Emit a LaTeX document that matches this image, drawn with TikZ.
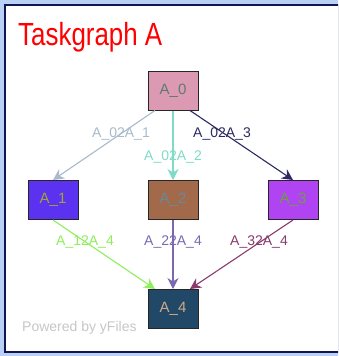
\documentclass[tikz,border=0pt]{standalone}
\usepackage{fontspec}
\setmainfont{Liberation Sans}
\usetikzlibrary{arrows.meta,calc}
\definecolor{bgblue}{HTML}{B9D1F4}
\definecolor{navy}{HTML}{141452}
\definecolor{e01}{HTML}{A9BACB}
\definecolor{e02}{HTML}{7EDCC6}
\definecolor{e03}{HTML}{2B2A62}
\definecolor{e14}{HTML}{8FEE5C}
\definecolor{e24}{HTML}{7A68B0}
\definecolor{e34}{HTML}{8A3A6C}
\definecolor{f0}{HTML}{DC9AB2}
\definecolor{f1}{HTML}{5A32F0}
\definecolor{f2}{HTML}{A26A4A}
\definecolor{f3}{HTML}{B043F2}
\definecolor{f4}{HTML}{224868}
\definecolor{t0}{HTML}{607A70}
\definecolor{t1}{HTML}{A2A23A}
\definecolor{t2}{HTML}{6A8898}
\definecolor{t3}{HTML}{6CA040}
\definecolor{t4}{HTML}{CCAA88}
\tikzset{
  task/.style={draw=black!85, line width=1pt, minimum width=50pt, minimum height=39pt,
    inner sep=0pt, font=\fontsize{15pt}{17pt}\selectfont},
  edge/.style={line width=1.1pt, -{Stealth[length=11pt,width=11pt,inset=3.5pt]}},
  elabel/.style={font=\fontsize{14pt}{16pt}\selectfont, inner sep=0pt}
}
\begin{document}
\begin{tikzpicture}[x=1pt,y=-1pt]
\useasboundingbox (0,0) rectangle (338,356);
\clip (0,0) rectangle (338,356);
\fill[bgblue] (0,0) rectangle (338,356);
\fill[navy] (4,4) rectangle (342,353);
\fill[white] (6,6) rectangle (342,351);
\node[anchor=base west, inner sep=0pt, text=red, font=\fontsize{32pt}{36pt}\selectfont] (title) at (18,45.7) {\scalebox{0.81}[1]{Taskgraph A}};
\node[anchor=base west, inner sep=0pt, text=black!22, font=\fontsize{14pt}{16pt}\selectfont] (powered) at (22,331.5) {Powered by yFiles};

\node[task, fill=f0, text=t0] (a0) at (173,90.5) {A\_0};
\node[task, fill=f1, text=t1] (a1) at (53,200) {A\_1};
\node[task, fill=f2, text=t2] (a2) at (173,200) {A\_2};
\node[task, fill=f3, text=t3] (a3) at (293,200) {A\_3};
\node[task, fill=f4, text=t4] (a4) at (173,309) {A\_4};

\draw[edge, e01] ($(a0.south)+(-18,0)$) -- (a1.north);
\draw[edge, e02] (a0.south) -- (a2.north);
\draw[edge, e03] ($(a0.south)+(17,0)$) -- (a3.north);
\draw[edge, e14] (a1.south) -- ($(a4.north)+(-18,0)$);
\draw[edge, e24] (a2.south) -- (a4.north);
\draw[edge, e34] (a3.south) -- ($(a4.north)+(17,0)$);

\node[elabel, text=e01] (l01) at (121,134) {A\_02A\_1};
\node[elabel, text=e02] (l02) at (173,157) {A\_02A\_2};
\node[elabel, text=e03] (l03) at (222,134) {A\_02A\_3};
\node[elabel, text=e14] (l14) at (85,242) {A\_12A\_4};
\node[elabel, text=e24] (l24) at (173,242) {A\_22A\_4};
\node[elabel, text=e34] (l34) at (259,242) {A\_32A\_4};
\end{tikzpicture}
\end{document}
